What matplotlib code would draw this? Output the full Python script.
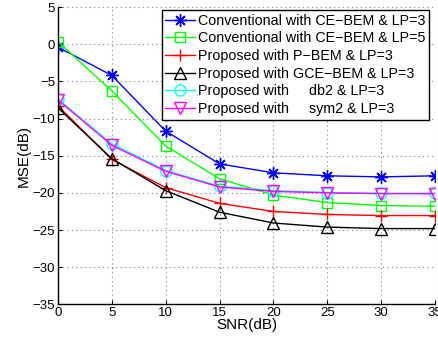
import matplotlib
matplotlib.use("Agg")
import matplotlib.pyplot as plt

snr = [0, 5, 10, 15, 20, 25, 30, 35]

conv_ce_lp3 = [-0.4, -4.2, -11.7, -16.1, -17.3, -17.7, -17.85, -17.7]
conv_ce_lp5 = [0.35, -6.3, -13.7, -18.1, -20.3, -21.3, -21.7, -21.8]
prop_pbem = [-8.3, -15.5, -19.3, -21.4, -22.5, -22.9, -23.05, -23.05]
prop_gce = [-8.55, -15.4, -19.7, -22.6, -24.05, -24.6, -24.8, -24.8]
prop_db2 = [-7.4, -13.4, -17.0, -19.1, -19.7, -19.95, -20.05, -20.05]
prop_sym2 = [-7.5, -13.6, -17.1, -19.2, -19.8, -20.0, -20.1, -20.1]

labels = ["Conventional with CE\u2212BEM & LP=3",
          "Conventional with CE\u2212BEM & LP=5",
          "Proposed with P\u2212BEM & LP=3",
          "Proposed with GCE\u2212BEM & LP=3",
          "Proposed with     db2 & LP=3",
          "Proposed with     sym2 & LP=3"]

plt.rcParams['font.family'] = ['Liberation Sans', 'DejaVu Sans']

fig = plt.figure(figsize=(4.38, 3.43), dpi=100)
ax = fig.add_axes([0.1324, 0.1125, 0.861, 0.867])

ax.plot(snr, conv_ce_lp3, color='#0000ff', lw=1, marker=(8, 2, 0), ms=9, mew=1, label=labels[0])
ax.plot(snr, conv_ce_lp5, color='#00ff00', lw=1, marker='s', ms=6.5, mfc='none', mew=1, label=labels[1])
ax.plot(snr, prop_pbem, color='#ff0000', lw=1, marker='+', ms=9, mew=1, label=labels[2])
ax.plot(snr, prop_gce, color='black', lw=1, marker='^', ms=8.5, mfc='none', mew=1, label=labels[3])
ax.plot(snr, prop_db2, color='#00ffff', lw=1, marker='o', ms=8, mfc='none', mew=1, label=labels[4])
ax.plot(snr, prop_sym2, color='#ff00ff', lw=1, marker='v', ms=8.5, mfc='none', mew=1, label=labels[5])

ax.set_xlim(0, 35)
ax.set_ylim(-35, 5)
ax.set_xticks(snr)
ax.set_yticks(range(-35, 6, 5))
ax.set_yticklabels([str(v).replace('-', '\u2212') for v in range(-35, 6, 5)])
ax.tick_params(direction='in', length=3, labelsize=9.5, pad=2)
ax.grid(True, linestyle=(0, (1, 3)), color='#808080', lw=0.8)
ax.spines['top'].set_visible(False)
ax.spines['right'].set_visible(False)
ax.spines['left'].set_linewidth(1)
ax.spines['bottom'].set_linewidth(1)

ax.set_xlabel("SNR(dB)", fontsize=11, labelpad=-1)
ax.set_ylabel("MSE(dB)", fontsize=11, labelpad=1)

leg = ax.legend(loc='upper right', bbox_to_anchor=(0.984, 0.99), fontsize=10.3, frameon=True,
                fancybox=False, borderpad=0.25, labelspacing=0.26, handlelength=2.1,
                handletextpad=0.2, borderaxespad=0)
leg.get_frame().set_edgecolor('black')
leg.get_frame().set_linewidth(1)
leg.get_frame().set_alpha(1)

fig.savefig("out.png", dpi=100)
